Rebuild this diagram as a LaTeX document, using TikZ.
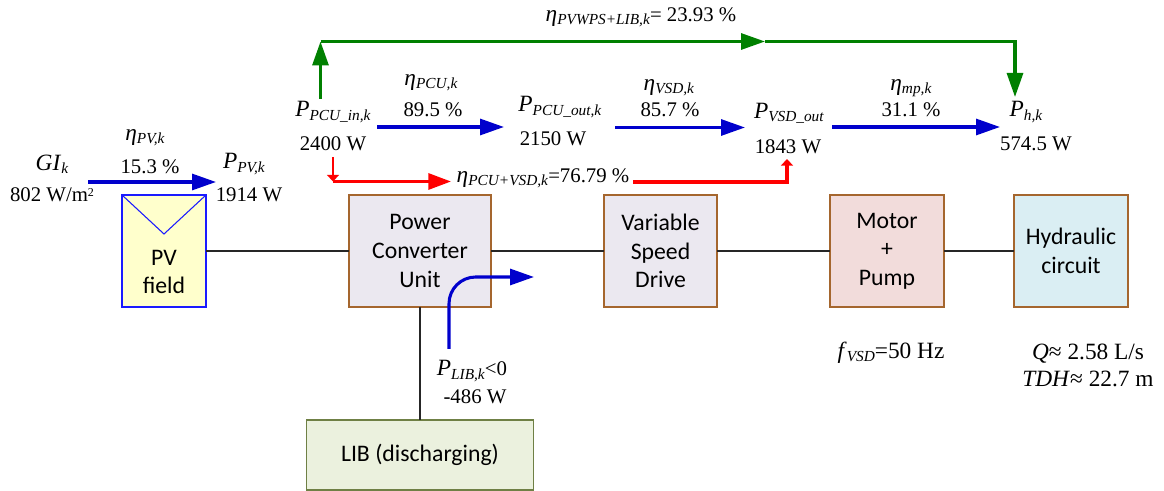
\documentclass[tikz,border=0pt]{standalone}
\usepackage{fontspec}
\setmainfont{Liberation Serif}
\newfontfamily\boxfont{Carlito}
\usetikzlibrary{positioning,arrows.meta}

\definecolor{boxedge}{HTML}{A5662E}
\definecolor{libedge}{HTML}{6F8045}
\definecolor{pvfill}{HTML}{FFFFCC}
\definecolor{pvedge}{HTML}{1A1AFF}
\definecolor{pcufill}{HTML}{EBE8F0}
\definecolor{motorfill}{HTML}{F2DCDB}
\definecolor{hydfill}{HTML}{DAEEF3}
\definecolor{libfill}{HTML}{EBF1DE}
\definecolor{flowblue}{HTML}{0000CC}
\definecolor{flowgreen}{HTML}{008000}

\newcommand{\symb}[2]{{\fontsize{17.5}{20}\selectfont\textit{#1}\raisebox{-0.3ex}{\fontsize{11.5}{13}\selectfont\textit{#2}}}}

\begin{document}
\begin{tikzpicture}[
  x=0.75pt, y=-0.75pt,
  box/.style={draw=boxedge, line width=0.9pt, outer sep=0pt, inner sep=0pt, align=center, minimum height=84pt, font=\boxfont\fontsize{17.8}{21.4}\selectfont},
  txt/.style={inner sep=0pt, outer sep=0pt, align=center, font=\fontsize{15.6}{20.2}\selectfont},
  bigtxt/.style={txt, font=\fontsize{17.5}{20.2}\selectfont},
  flow/.style={-{Triangle[length=18pt,width=12pt]}, line width=2.3pt, draw=flowblue},
  greenflow/.style={-{Triangle[length=18pt,width=12pt]}, line width=2.3pt, draw=flowgreen},
  redflow/.style={-{Triangle[length=17pt,width=12pt]}, line width=2.3pt, draw=red},
  redstub/.style={-{Triangle[length=5pt,width=9pt]}, line width=2.3pt, draw=red},
  wire/.style={line width=0.9pt, draw=black!85}
]
\useasboundingbox (0,0) rectangle (1164,491);

% component row
\node[box, draw=pvedge, fill=pvfill, minimum width=63pt] (pv) at (164,251) {};
\node[box, fill=pcufill, minimum width=106.5pt, right=107.25pt of pv] (pcu) {Power\\Converter\\Unit};
\node[box, fill=pcufill, minimum width=84.75pt, right=84.75pt of pcu] (vsd) {Variable\\Speed\\Drive};
\node[box, fill=motorfill, minimum width=85.5pt, right=84.75pt of vsd] (motor) {Motor\\+\\Pump};
\node[box, fill=hydfill, minimum width=85.5pt, right=52.5pt of motor] (hyd) {Hydraulic\\circuit};
\node[box, draw=libedge, fill=libfill, minimum width=170pt, minimum height=52.5pt, below=84.75pt of pcu] (lib) {LIB (discharging)};
\node[txt, font=\boxfont\fontsize{17.8}{21.4}\selectfont] (pvtext) at (164,272) {PV\\field};
\coordinate (pvtip) at (164,234);
\draw[draw=pvedge, line width=0.8pt] (pv.north west) -- (pvtip) -- (pv.north east);

\draw[wire] (pv) -- (pcu);
\draw[wire] (pcu) -- (vsd);
\draw[wire] (vsd) -- (motor);
\draw[wire] (motor) -- (hyd);
\draw[wire] (pcu) -- (lib);

% labels
\node[txt] (eff) at (641,17) {\symb{η}{PVWPS+LIB,k}= 23.93 \%};
\node[txt] (gi) at (52,164) {\symb{GI}{k}};
\node[txt] (giv) at (52,195) {802 W/m\raisebox{0.6ex}{\fontsize{9}{9}\selectfont 2}};
\node[txt] (etapv) at (145,138) {\symb{η}{PV,k}};
\node[txt] (etapvv) at (150,167) {15.3 \%};
\node[txt] (ppv) at (244,164) {\symb{P}{PV,k}};
\node[txt] (ppvv) at (249,195) {1914 W};
\node[txt] (pin) at (333,112) {\symb{P}{PCU\_in,k}};
\node[txt] (pinv) at (333,144) {2400 W};
\node[txt] (etapcu) at (431,83) {\symb{η}{PCU,k}};
\node[txt] (etapcuv) at (433,110) {89.5 \%};
\node[txt] (pout) at (560,107) {\symb{P}{PCU\_out,k}};
\node[txt] (poutv) at (553,139) {2150 W};
\node[txt] (etavsd) at (669,88) {\symb{η}{VSD,k}};
\node[txt] (etavsdv) at (670,110) {85.7 \%};
\node[txt] (pvsd) at (789,113) {\symb{P}{VSD\_out}};
\node[txt] (pvsdv) at (788,147) {1843 W};
\node[txt] (etamp) at (911,88) {\symb{η}{mp,k}};
\node[txt] (etampv) at (911,110) {31.1 \%};
\node[txt] (ph) at (1026,112) {\symb{P}{h,k}};
\node[txt] (phv) at (1036,144) {574.5 W};
\node[txt] (etared) at (543,178) {\symb{η}{PCU+VSD,k}=76.79 \%};
\node[txt] (plib) at (472,371) {\symb{P}{LIB,k}<0};
\node[txt] (plibv) at (475,397) {-486 W};
\node[bigtxt] (fvsd) at (891,353) {\symb{f}{VSD}=50 Hz};
\node[bigtxt] (head) at (1088,365) {\textit{Q}≈ 2.58 L/s\\\textit{TDH}≈ 22.7 m};

% flow ends
\coordinate (gistart) at (88,182);
\coordinate (giend) at (216,182);
\coordinate (pinstart) at (377,127);
\coordinate (pinend) at (504,127);
\coordinate (vsdstart) at (615,127.5);
\coordinate (vsdend) at (745,127.5);
\coordinate (mpstart) at (832,127);
\coordinate (mpend) at (1000,127);
\coordinate (libstart) at (449,349);
\coordinate (libbend) at (449,277);
\coordinate (libend) at (534,277);
\coordinate (gstart) at (320.5,99);
\coordinate (gcorner) at (320.5,41.5);
\coordinate (gmid) at (765,41.5);
\coordinate (gend) at (1015,97);
\coordinate (rstart) at (333,157);
\coordinate (rcorner) at (333,181.5);
\coordinate (rend) at (451,181.5);
\coordinate (rback) at (633,182);
\coordinate (rtop) at (787,159);

% flows
\draw[flow] (gistart) -- (giend);
\draw[flow] (pinstart) -- (pinend);
\draw[flow] (vsdstart) -- (vsdend);
\draw[flow] (mpstart) -- (mpend);
\draw[flow, rounded corners=20pt] (libstart) -- (libbend) -- (libend);
\draw[greenflow] (gstart) -- (gcorner);
\draw[greenflow] (gcorner) -- (gmid);
\draw[greenflow] (gmid) -| (gend);
\draw[redstub, line width=1.5pt] (rstart) -- (rcorner);
\draw[redflow] (rcorner) -- (rend);
\draw[redstub] (rback) -| (rtop);
\end{tikzpicture}
\end{document}
